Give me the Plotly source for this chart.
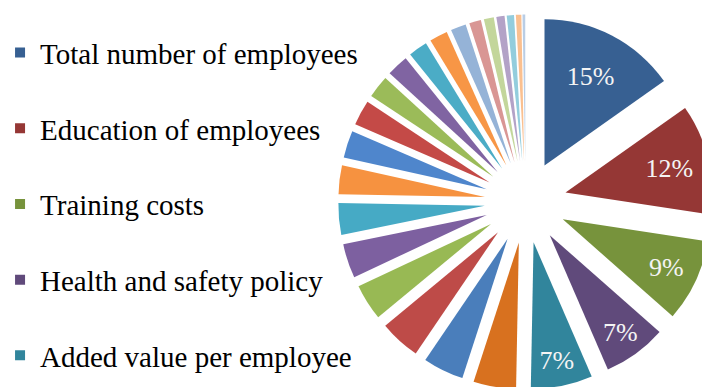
import plotly.graph_objects as go

# ---- data ----
categories = [
    "Total number of employees", "Education of employees", "Training costs",
    "Health and safety policy", "Added value per employee",
    "Indicator 6", "Indicator 7", "Indicator 8", "Indicator 9", "Indicator 10",
    "Indicator 11", "Indicator 12", "Indicator 13", "Indicator 14", "Indicator 15",
    "Indicator 16", "Indicator 17", "Indicator 18", "Indicator 19", "Indicator 20",
    "Indicator 21", "Indicator 22", "Indicator 23", "Indicator 24", "Indicator 25",
]
values = [15.2, 12.2, 9.1, 7.0, 6.8,
          4.7, 4.5, 4.5, 4.0, 3.8, 3.5, 3.2,
          3.0, 2.8, 2.5, 2.4, 2.1, 2.0,
          1.7, 1.3, 1.1, 0.9, 0.8, 0.6, 0.3]
colors = [
    "#376092", "#953735", "#77933C", "#604A7B", "#31859C", "#D8711F",
    "#4A7EBB", "#BE4B48", "#98B954", "#7D60A0", "#46AAC5", "#F69240",
    "#4F86CC", "#C44A47", "#9BBB59", "#8064A2", "#4BACC6", "#F79646",
    "#95B3D7", "#D99694", "#C3D69B", "#B3A2C7", "#93CDDD", "#FAC090", "#B9CDE5",
]
labelled = 5          # number of slices that carry a percentage label
legend_items = 5      # number of categories shown in the legend

W, H = 720, 400

fig = go.Figure()
fig.add_trace(go.Pie(
    labels=categories,
    values=values,
    sort=False,
    direction="clockwise",
    rotation=0,
    pull=[0.28] * len(values),
    marker=dict(colors=colors, line=dict(width=0)),
    texttemplate=["%{percent:.0%}" if i < labelled else "" for i in range(len(values))],
    textposition="inside",
    insidetextorientation="horizontal",
    textfont=dict(family="Liberation Serif", size=26, color="#F4F4F4"),
    showlegend=False,
    domain=dict(x=[335 / W, 713 / W], y=[1 - 391 / H, 1 - 13 / H]),
    hoverinfo="label+percent",
))

for i in range(legend_items):
    fig.add_trace(go.Scatter(
        x=[None], y=[None], mode="markers", name=categories[i],
        legendgroup=f"g{i}",
        marker=dict(symbol="square", size=10, color=colors[i]),
    ))

fig.update_layout(
    width=W, height=H,
    margin=dict(l=0, r=0, t=0, b=0),
    paper_bgcolor="white", plot_bgcolor="white",
    xaxis=dict(visible=False), yaxis=dict(visible=False),
    legend=dict(
        x=-6 / W, y=0.932, xanchor="left", yanchor="top",
        font=dict(family="Liberation Serif", size=29, color="#000000"),
        tracegroupgap=35, traceorder="grouped",
        bgcolor="rgba(0,0,0,0)",
    ),
)

fig.write_html(
    "out.html",
    post_script="document.body.style.margin='0';document.body.style.overflow='hidden';"
                "document.documentElement.style.overflow='hidden';",
)
